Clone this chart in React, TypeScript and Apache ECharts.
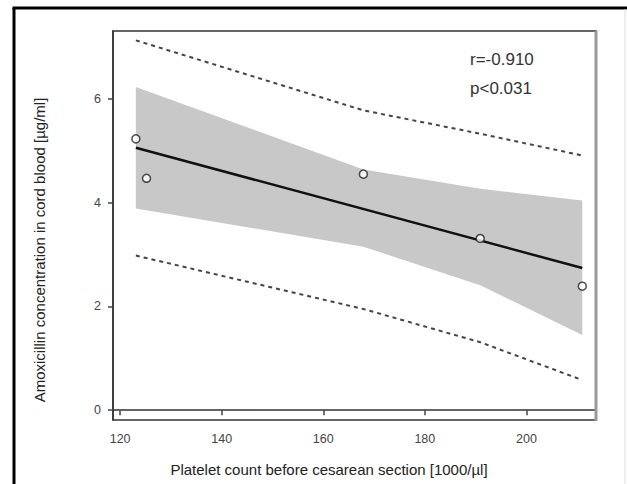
import React, { useEffect, useRef } from "react";
import * as echarts from "echarts";

// Observed data points
const pointX = [123.1, 125.2, 167.9, 190.9, 211.0];
const pointY = [5.23, 4.47, 4.55, 3.31, 2.39];

// Regression line endpoints
const fitX = [123.1, 211.0];
const fitY = [5.06, 2.74];

// Confidence band (shaded)
const bandX = [123.1, 167.9, 190.9, 211.0];
const bandUpper = [6.23, 4.64, 4.27, 4.04];
const bandLower = [3.89, 3.15, 2.41, 1.45];

// Prediction band (dashed)
const predX = [123.1, 167.9, 190.9, 211.0];
const predUpper = [7.13, 5.78, 5.33, 4.91];
const predLower = [2.98, 1.95, 1.31, 0.58];

// Axis ticks
const xTicks = [120, 140, 160, 180, 200];
const yTicks = [0, 2, 4, 6];

const xTitle = "Platelet count before cesarean section [1000/µl]";
const yTitle = "Amoxicillin concentration in cord blood [µg/ml]";
const statLines = ["r=-0.910", "p<0.031"];

const FONT = "'Liberation Sans', Arial, Helvetica, sans-serif";

export default function App() {
  const ref = useRef<HTMLDivElement>(null);
  useEffect(() => {
    document.body.style.margin = "0";
    if (!ref.current) return;
    const chart = echarts.init(ref.current, null, { renderer: "svg" });
    const zip = (xs: number[], ys: number[]) => xs.map((x, i) => [x, ys[i]]);
    chart.setOption({
      animation: false,
      backgroundColor: "#ffffff",
      grid: {
        left: 113,
        top: 31,
        right: 31,
        bottom: 64,
        show: true,
        borderColor: "#333",
        borderWidth: 1.5,
      },
      xAxis: {
        type: "value",
        min: 118.6,
        max: 213.7,
        axisLine: { show: true, lineStyle: { color: "#333", width: 1.5 } },
        axisTick: { show: true, length: 5, customValues: xTicks, lineStyle: { color: "#444", width: 1.5 } },
        axisLabel: { customValues: xTicks, margin: 12, fontSize: 12.5, color: "#444", fontFamily: FONT },
        splitLine: { show: false },
      },
      yAxis: {
        type: "value",
        min: -0.19,
        max: 7.31,
        axisLine: { show: true, lineStyle: { color: "#333", width: 1.5 } },
        axisTick: { show: true, length: 5, customValues: yTicks, lineStyle: { color: "#444", width: 1.5 } },
        axisLabel: { customValues: yTicks, margin: 12, fontSize: 12.5, color: "#444", fontFamily: FONT },
        splitLine: { show: false },
      },
      graphic: [
        { type: "line", shape: { x1: 14, y1: 8, x2: 14, y2: 484 }, style: { stroke: "#000", lineWidth: 3 } },
        { type: "line", shape: { x1: 12.5, y1: 8, x2: 627, y2: 8 }, style: { stroke: "#000", lineWidth: 3 } },
        { type: "line", shape: { x1: 625, y1: 9, x2: 625, y2: 484 }, style: { stroke: "#ddd", lineWidth: 1 } },
        { type: "line", shape: { x1: 596, y1: 31, x2: 596, y2: 421 }, style: { stroke: "#999", lineWidth: 3 }, z: 100 },
        {
          type: "text",
          x: 329,
          y: 469,
          style: { text: xTitle, fontSize: 15, fill: "#222", fontFamily: FONT, textAlign: "center", textVerticalAlign: "middle" },
        },
        {
          type: "text",
          x: 39,
          y: 250,
          rotation: Math.PI / 2,
          style: { text: yTitle, fontSize: 15, fill: "#222", fontFamily: FONT, textAlign: "center", textVerticalAlign: "middle" },
        },
        {
          type: "text",
          left: 470,
          top: 51,
          style: { text: statLines[0], fontSize: 17, fill: "#333", fontFamily: FONT },
        },
        {
          type: "text",
          left: 470,
          top: 80,
          style: { text: statLines[1], fontSize: 17, fill: "#333", fontFamily: FONT },
        },
      ],
      series: [
        {
          type: "custom",
          silent: true,
          z: 1,
          data: [[bandX[0], bandLower[0]]],
          renderItem: (_params: any, api: any) => {
            const pts: number[][] = [];
            bandX.forEach((x, i) => pts.push(api.coord([x, bandUpper[i]])));
            for (let i = bandX.length - 1; i >= 0; i--) pts.push(api.coord([bandX[i], bandLower[i]]));
            return { type: "polygon", shape: { points: pts }, style: { fill: "#c8c8c8", stroke: "none" } };
          },
        },
        {
          type: "line",
          data: zip(predX, predUpper),
          symbol: "none",
          z: 3,
          lineStyle: { color: "#444", width: 2, type: [4, 4] },
        },
        {
          type: "line",
          data: zip(predX, predLower),
          symbol: "none",
          z: 3,
          lineStyle: { color: "#444", width: 2, type: [4, 4] },
        },
        {
          type: "line",
          data: zip(fitX, fitY),
          symbol: "none",
          z: 4,
          lineStyle: { color: "#111", width: 2.5 },
        },
        {
          type: "scatter",
          data: zip(pointX, pointY),
          symbol: "circle",
          symbolSize: 8,
          z: 5,
          itemStyle: { color: "#fff", borderColor: "#222", borderWidth: 1.5 },
        },
      ],
    });
    return () => chart.dispose();
  }, []);
  return <div ref={ref} style={{ width: 627, height: 484 }} />;
}
